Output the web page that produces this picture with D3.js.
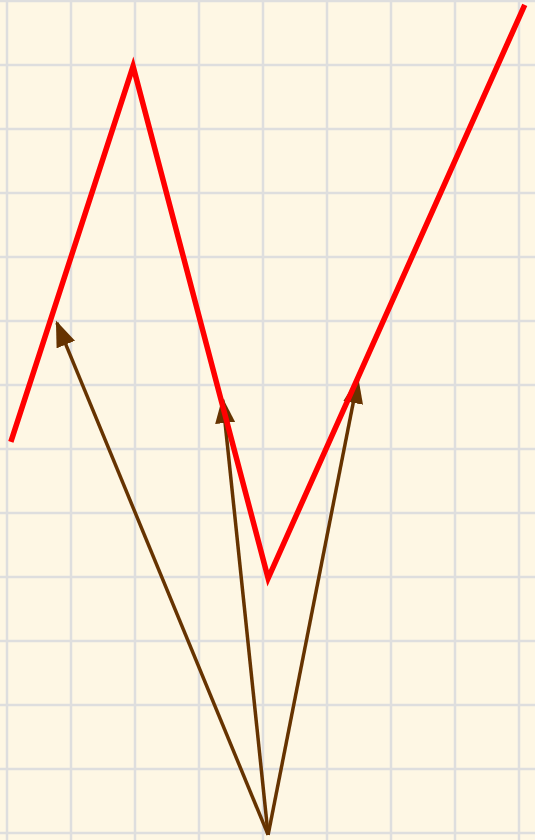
<!DOCTYPE html>
<html>
<head>
<meta charset="utf-8">
<script src="https://cdn.jsdelivr.net/npm/d3@7"></script>
<style>
  html, body { margin: 0; padding: 0; background: #fef7e4; }
  svg { display: block; }
</style>
</head>
<body>
<svg id="svg" width="535" height="840"></svg>
<script>
// values in grid units (one cell = 1)
var redX = [0.06, 1.97, 4.08, 8.09];
var redY = [6.11, 11.98, 3.98, 12.94];
var arrowOrigin = [4.08, -0.03];
var arrowX = [0.78, 3.37, 5.48];
var arrowY = [7.97, 6.77, 7.08];
var gridX = d3.range(0, 9);
var gridY = d3.range(0, 14);

var svg = d3.select("svg"),
    width = +svg.attr("width"),
    height = +svg.attr("height");

// one unit = 64px
var x = d3.scaleLinear().domain([0, 1]).range([7, 71]);
var y = d3.scaleLinear().domain([0, 1]).range([833, 769]);

svg.append("rect")
    .attr("width", width)
    .attr("height", height)
    .attr("fill", "#fef7e4");

svg.append("defs").append("marker")
    .attr("id", "arrow")
    .attr("viewBox", "0 -5 10 10")
    .attr("refX", 9)
    .attr("refY", 0)
    .attr("markerUnits", "userSpaceOnUse")
    .attr("markerWidth", 26)
    .attr("markerHeight", 20)
    .attr("preserveAspectRatio", "none")
    .attr("orient", "auto")
    .append("path")
    .attr("d", "M0,-5L10,0L0,5Z")
    .attr("fill", "#663300");

var grid = svg.append("g").attr("stroke", "#dedede").attr("stroke-width", 2.5);
grid.selectAll(".vx")
    .data(gridX)
    .enter().append("line")
    .attr("x1", function (d) { return x(d); })
    .attr("x2", function (d) { return x(d); })
    .attr("y1", 0)
    .attr("y2", height);
grid.selectAll(".hy")
    .data(gridY)
    .enter().append("line")
    .attr("y1", function (d) { return y(d); })
    .attr("y2", function (d) { return y(d); })
    .attr("x1", 0)
    .attr("x2", width);

var redPts = redX.map(function (v, i) { return [v, redY[i]]; });
var line = d3.line()
    .x(function (d) { return x(d[0]); })
    .y(function (d) { return y(d[1]); });

svg.append("g").selectAll(".arr")
    .data(arrowX.map(function (v, i) { return [v, arrowY[i]]; }))
    .enter().append("line")
    .attr("x1", x(arrowOrigin[0]))
    .attr("y1", y(arrowOrigin[1]))
    .attr("x2", function (d) { return x(d[0]); })
    .attr("y2", function (d) { return y(d[1]); })
    .attr("stroke", "#663300")
    .attr("stroke-width", 3.5)
    .attr("marker-end", "url(#arrow)");

svg.append("path")
    .datum(redPts)
    .attr("d", line)
    .attr("fill", "none")
    .attr("stroke", "#ff0000")
    .attr("stroke-width", 5.5);
</script>
</body>
</html>
